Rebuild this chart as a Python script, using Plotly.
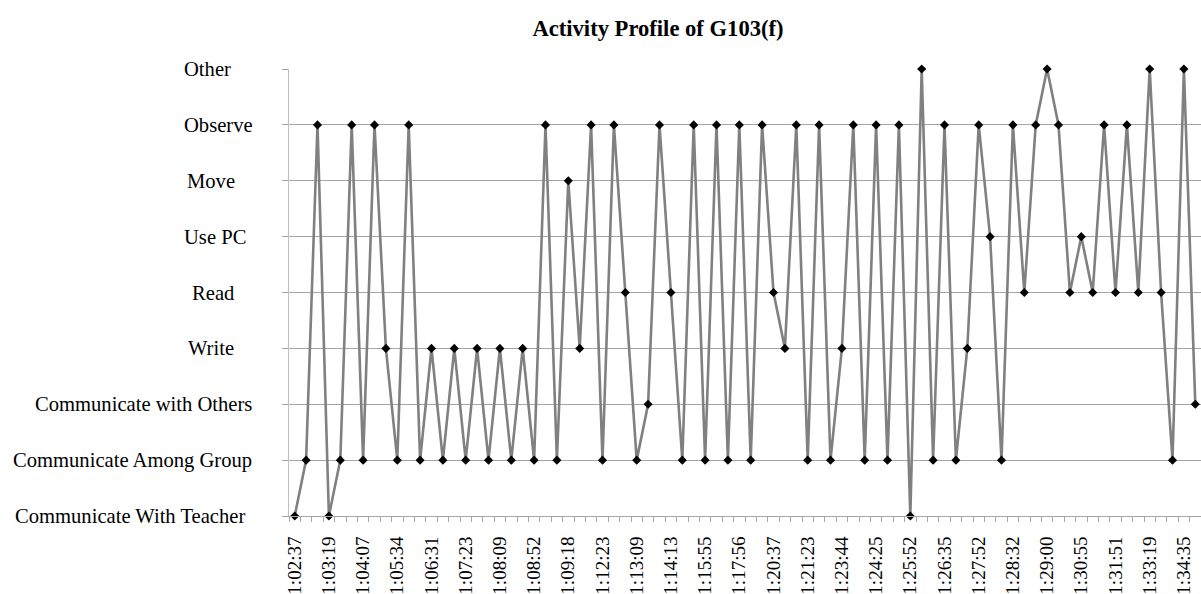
import plotly.graph_objects as go

# Activity levels, bottom to top
levels = [
    "Communicate With Teacher",
    "Communicate Among Group",
    "Communicate with Others",
    "Write",
    "Read",
    "Use PC",
    "Move",
    "Observe",
    "Other",
]

# Observed activity at each sampled moment, in order
activity = [
    "Communicate With Teacher", "Communicate Among Group", "Observe",
    "Communicate With Teacher", "Communicate Among Group", "Observe",
    "Communicate Among Group", "Observe", "Write",
    "Communicate Among Group", "Observe", "Communicate Among Group",
    "Write", "Communicate Among Group", "Write",
    "Communicate Among Group", "Write", "Communicate Among Group",
    "Write", "Communicate Among Group", "Write",
    "Communicate Among Group", "Observe", "Communicate Among Group",
    "Move", "Write", "Observe",
    "Communicate Among Group", "Observe", "Read",
    "Communicate Among Group", "Communicate with Others", "Observe",
    "Read", "Communicate Among Group", "Observe",
    "Communicate Among Group", "Observe", "Communicate Among Group",
    "Observe", "Communicate Among Group", "Observe",
    "Read", "Write", "Observe",
    "Communicate Among Group", "Observe", "Communicate Among Group",
    "Write", "Observe", "Communicate Among Group",
    "Observe", "Communicate Among Group", "Observe",
    "Communicate With Teacher", "Other", "Communicate Among Group",
    "Observe", "Communicate Among Group", "Write",
    "Observe", "Use PC", "Communicate Among Group",
    "Observe", "Read", "Observe",
    "Other", "Observe", "Read",
    "Use PC", "Read", "Observe",
    "Read", "Observe", "Read",
    "Other", "Read", "Communicate Among Group",
    "Other", "Communicate with Others",
]

# Time stamps shown along the axis (every third sample)
time_labels = [
    "1:02:37", "1:03:19", "1:04:07", "1:05:34", "1:06:31", "1:07:23",
    "1:08:09", "1:08:52", "1:09:18", "1:12:23", "1:13:09", "1:14:13",
    "1:15:55", "1:17:56", "1:20:37", "1:21:23", "1:23:44", "1:24:25",
    "1:25:52", "1:26:35", "1:27:52", "1:28:32", "1:29:00", "1:30:55",
    "1:31:51", "1:33:19", "1:34:35",
]
label_step = 3

# Horizontal centres (px) of the level captions on the left
caption_centers_px = [130, 132, 143, 211, 213, 215, 211, 218, 207]

FONT = "Liberation Serif"
W, H = 1201, 594
ML, MR, MT, MB = 289, 0, 69, 78
plot_w = W - ML - MR

x = list(range(len(activity)))
y = [levels.index(a) for a in activity]

fig = go.Figure()
fig.add_trace(go.Scatter(
    x=x, y=y,
    mode="lines+markers",
    line=dict(color="#808080", width=2.6),
    marker=dict(symbol="diamond", size=7, color="black"),
    cliponaxis=False,
    showlegend=False,
    hoverinfo="skip",
))

for i, name in enumerate(levels):
    fig.add_annotation(
        text=name,
        xref="paper", yref="y",
        x=(caption_centers_px[i] - ML) / plot_w, y=i,
        xanchor="center", yanchor="middle",
        showarrow=False,
        font=dict(family=FONT, size=20.6, color="black"),
    )

tick_pos = list(range(0, len(activity), label_step))

fig.update_layout(
    width=W, height=H,
    margin=dict(l=ML, r=MR, t=MT, b=MB, pad=0),
    paper_bgcolor="white",
    plot_bgcolor="white",
    title=dict(
        text="<b>Activity Profile of G103(f)</b>",
        font=dict(family=FONT, size=22.6, color="black"),
        x=658 / W, xanchor="center", xref="container",
        y=1 - 28 / H, yanchor="middle", yref="container",
    ),
    xaxis=dict(
        range=[-0.5, len(activity) - 0.5],
        tickmode="array",
        tickvals=tick_pos,
        ticktext=time_labels,
        tickangle=-90,
        ticks="",
        ticklabelstandoff=12,
        tickfont=dict(family=FONT, size=19, color="black"),
        showgrid=False,
        zeroline=False,
        showline=True,
        linecolor="#a6a6a6",
        linewidth=1,
        minor=dict(
            ticks="outside", ticklen=5, tickcolor="#a6a6a6", tickwidth=1,
            tick0=-0.5, dtick=1, showgrid=False,
        ),
    ),
    yaxis=dict(
        range=[0, len(levels) - 1],
        tickmode="array",
        tickvals=list(range(len(levels))),
        showticklabels=False,
        ticks="outside",
        ticklen=6,
        tickcolor="#a6a6a6",
        showgrid=True,
        gridcolor="#a6a6a6",
        gridwidth=1,
        zeroline=False,
        showline=True,
        linecolor="#bfbfbf",
        linewidth=1,
    ),
)

fig.write_html("out.html")
